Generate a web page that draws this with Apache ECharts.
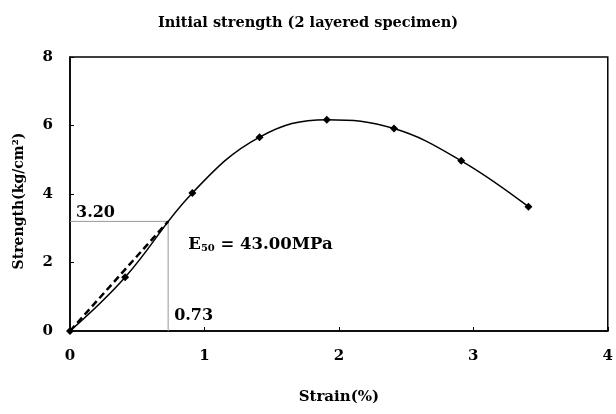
<!DOCTYPE html>
<html>
<head>
<meta charset="utf-8">
<script src="https://cdn.jsdelivr.net/npm/echarts@6/dist/echarts.min.js"></script>
<style>
  html, body { margin: 0; padding: 0; background: #fff; }
  #chart { width: 616px; height: 414px; }
</style>
</head>
<body>
<div id="chart"></div>
<script>
// Stress–strain readings for the 2-layered specimen
const strain = [0, 0.41, 0.91, 1.41, 1.91, 2.41, 2.91, 3.41];
const strength = [0, 1.57, 4.03, 5.66, 6.17, 5.91, 4.97, 3.63];

// Half-strength point used for the secant modulus E50
const halfStrain = 0.73;
const halfStrength = 3.20;
const modulusText = '43.00MPa';
const modulusAnchor = [0.88, 2.52];

const xTicks = [0, 1, 2, 3, 4];
const yTicks = [0, 2, 4, 6, 8];

const serif = '"DejaVu Serif", "Liberation Serif", serif';

const chart = echarts.init(document.getElementById('chart'), null, { renderer: 'canvas' });

const curveData = strain.map((s, i) => [s, strength[i]]);

const boldText = (size) => ({ fontFamily: serif, fontWeight: 'bold', fontSize: size, color: '#000' });

chart.setOption({
  animation: false,
  backgroundColor: '#fff',
  title: {
    text: 'Initial strength (2 layered specimen)',
    left: 'center',
    top: 11,
    textStyle: boldText(14.5)
  },
  grid: {
    left: 70, right: 6, top: 57, bottom: 83,
    show: true, borderColor: '#000', borderWidth: 1.5, backgroundColor: 'transparent'
  },
  xAxis: {
    type: 'value',
    min: xTicks[0], max: xTicks[xTicks.length - 1], interval: 1,
    name: 'Strain(%)',
    nameLocation: 'middle',
    nameGap: 59,
    nameTextStyle: boldText(15),
    axisLine: { show: true, lineStyle: { color: '#000', width: 1.5 } },
    axisTick: { show: true, inside: true, length: 4, lineStyle: { color: '#000' } },
    axisLabel: Object.assign(boldText(15), { margin: 18 }),
    splitLine: { show: false }
  },
  yAxis: {
    type: 'value',
    min: yTicks[0], max: yTicks[yTicks.length - 1], interval: 2,
    name: 'Strength(kg/cm²)',
    nameLocation: 'middle',
    nameGap: 44,
    nameTextStyle: Object.assign(boldText(14), { padding: [0, 14, 0, 0] }),
    axisLine: { show: true, lineStyle: { color: '#000', width: 1.5 } },
    axisTick: { show: true, inside: true, length: 4, lineStyle: { color: '#000' } },
    axisLabel: Object.assign(boldText(15), { margin: 17 }),
    splitLine: { show: false }
  },
  series: [
    {
      // guide lines marking the half-strength point
      type: 'line',
      data: [[0, halfStrength], [halfStrain, halfStrength], [halfStrain, 0]],
      symbol: 'none',
      lineStyle: { color: '#999', width: 1 },
      z: 1,
      silent: true
    },
    {
      // secant line from the origin
      type: 'line',
      data: [[0, 0], [halfStrain, halfStrength]],
      symbol: 'none',
      lineStyle: { color: '#000', width: 2.5, type: [7, 4] },
      z: 3,
      silent: true
    },
    {
      type: 'line',
      data: curveData,
      smooth: 0.4,
      symbol: 'diamond',
      symbolSize: 8,
      itemStyle: { color: '#000' },
      lineStyle: { color: '#000', width: 1.5 },
      z: 2
    }
  ]
});

// Annotation texts, placed from data coordinates through the axes
const toPx = (pt) => chart.convertToPixel({ gridIndex: 0 }, pt);
const pY = toPx([0, halfStrength]);
const pX = toPx([halfStrain, 0]);
const pE = toPx(modulusAnchor);

chart.setOption({
  graphic: [
    {
      type: 'text', x: pY[0] + 6, y: pY[1] - 1, z: 10,
      style: Object.assign(boldText(16), {
        text: halfStrength.toFixed(2), fill: '#000', align: 'left', verticalAlign: 'bottom',
        font: 'bold 16px ' + serif
      })
    },
    {
      type: 'text', x: pX[0] + 6, y: pX[1] - 7, z: 10,
      style: {
        text: halfStrain.toFixed(2), fill: '#000', align: 'left', verticalAlign: 'bottom',
        font: 'bold 16px ' + serif
      }
    },
    {
      type: 'text', x: pE[0], y: pE[1], z: 10,
      style: {
        text: '{e|E}{s|50}{e| = ' + modulusText + '}',
        fill: '#000', align: 'left', verticalAlign: 'middle',
        font: 'bold 16.5px ' + serif,
        rich: {
          e: { fill: '#000', font: 'bold 16.5px ' + serif },
          s: { fill: '#000', font: 'bold 10px ' + serif, padding: [8, 0, 0, 0] }
        }
      }
    }
  ]
});
</script>
</body>
</html>
